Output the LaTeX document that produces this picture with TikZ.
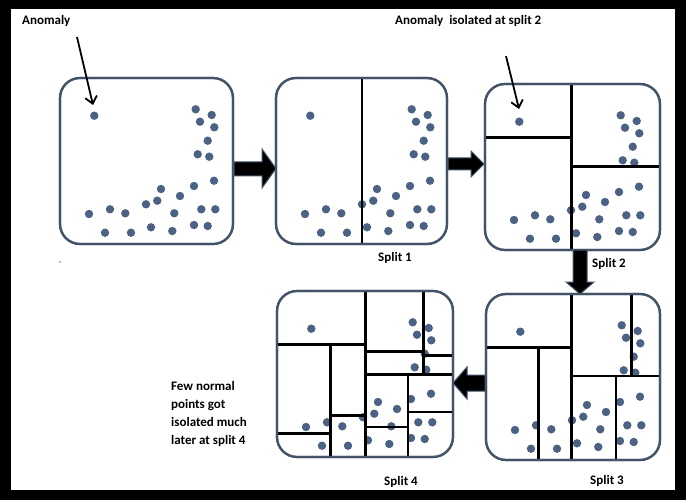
\documentclass[tikz,border=0pt]{standalone}
\usepackage{fontspec}
\setmainfont{Carlito}
\usetikzlibrary{arrows.meta}
\definecolor{frameblue}{HTML}{435468}
\definecolor{dotblue}{HTML}{4C6284}
\newcommand\mydots{%
  \foreach \px/\py in {34.3/37.7, 135.7/31.3, 151.7/37, 140/43.7, 154.3/49.3, 147.7/62.7,
    137.7/76.3, 149.3/78.7, 154/102.7, 134/108, 101/111, 120/118, 97.3/122.7, 86/126.3,
    50/131.3, 29/136, 65.3/135.3, 114.3/135.3, 141.3/131.3, 155.3/131.3, 45/154.7,
    71/154.7, 91/149.3, 112.3/153, 134/147, 147.7/148}
  {\fill[dotblue] (\px,\py) circle (4.2pt);}}
\begin{document}
\begin{tikzpicture}[x=1pt,y=-1pt,
  panel/.style={draw=frameblue, line width=2.2pt, rounded corners=20pt,
    minimum width=#1, minimum height=166pt, anchor=north west,
    inner sep=0pt, outer sep=0pt},
  cut/.style={draw=black, line width=2.6pt},
  txt/.style={font=\bfseries\fontsize{13}{18}\selectfont, inner sep=0pt},
  ann/.style={line width=1.8pt, -{Straight Barb[length=7pt,width=12pt]}},
  blk/.style={fill=black, draw=frameblue, line width=1pt, line join=miter}]
\useasboundingbox (0,0) rectangle (686,500);
\fill[black] (0,0) rectangle (686,500);
\fill[white] (11,9) rectangle (675,490);
\fill[gray] (60,262) circle (0.8pt);

% panels
\node[panel=173pt] (p1) at (60,78) {};
\node[panel=171pt] (p2) at (276,78) {};
\node[panel=175pt] (p3) at (485,84) {};
\node[panel=174pt] (p4) at (486,294) {};
\node[panel=176pt] (p5) at (277,291) {};

% panel 1
\begin{scope}[shift={(p1.north west)}]
  \mydots
  \coordinate (anom1) at (33,27);
\end{scope}
% panel 2
\begin{scope}[shift={(p2.north west)}]
  \mydots
  \draw[cut] (86,0) -- (86,166);
\end{scope}
% panel 3
\begin{scope}[shift={(p3.north west)}]
  \mydots
  \draw[cut] (86.7,0) -- (86.7,166);
  \draw[cut] (0,53.7) -- (86.7,53.7);
  \draw[cut] (86.7,82.7) -- (175,82.7);
  \coordinate (anom3) at (34,25);
\end{scope}
% panel 4 (split 3)
\begin{scope}[shift={(p4.north west)}]
  \mydots
  \draw[cut] (85.7,0) -- (85.7,166);
  \draw[cut] (0,53.7) -- (85.7,53.7);
  \draw[cut] (85.7,82) -- (174,82);
  \draw[cut] (145.7,0) -- (145.7,82);
  \draw[cut] (52.3,53.7) -- (52.3,166);
  \draw[cut] (130,82) -- (130,166);
\end{scope}
% panel 5 (split 4)
\begin{scope}[shift={(p5.north west)}]
  \mydots
  \draw[cut] (88.7,0) -- (88.7,166);
  \draw[cut] (0,53.6) -- (88.7,53.6);
  \draw[cut] (146.7,0) -- (146.7,83.6);
  \draw[cut] (88.7,60.3) -- (146.7,60.3);
  \draw[cut] (146.7,64.3) -- (176,64.3);
  \draw[cut] (88.7,83.6) -- (176,83.6);
  \draw[cut] (53.7,53.6) -- (53.7,166);
  \draw[cut] (0,142.6) -- (53.7,142.6);
  \draw[cut] (53.7,124.3) -- (88.7,124.3);
  \draw[cut] (131,83.6) -- (131,166);
  \draw[cut] (88.7,136) -- (131,136);
  \draw[cut] (131,121) -- (176,121);
\end{scope}

% redraw outlines on top
\foreach \p in {p1,p2,p3,p4,p5}
  \draw[frameblue, line width=2.2pt, rounded corners=20pt] (\p.north west) rectangle (\p.south east);

% block arrows
\draw[blk] (234,162) -- (262,162) -- (262,149) -- (276,168.5) -- (262,188) -- (262,176) -- (234,176) -- cycle;
\draw[blk] (448,158) -- (471,158) -- (471,151) -- (484,164) -- (471,177) -- (471,170) -- (448,170) -- cycle;
\draw[blk] (573,250) -- (587,250) -- (587,282) -- (594,282) -- (580,294) -- (566,282) -- (573,282) -- cycle;
\draw[blk] (485,375) -- (485,391) -- (467,391) -- (467,399) -- (453,383) -- (467,367) -- (467,375) -- cycle;

% texts
\node[txt, anchor=west] (t1) at (22,21) {Anomaly};
\node[txt, anchor=west] (t2) at (395,21) {Anomaly\ \ isolated at split 2};
\node[txt] (s1) at (395,258) {Split 1};
\node[txt] (s2) at (609,264) {Split 2};
\node[txt] (s3) at (607,481) {Split 3};
\node[txt] (s4) at (401,482) {Split 4};
\node[txt, anchor=north west, align=left] (few) at (171,381)
  {Few normal\\points got\\isolated much\\later at split 4};

% annotation arrows
\coordinate (a1s) at (77,37);
\coordinate (a2s) at (506,56);
\draw[ann] (a1s) -- (anom1);
\draw[ann] (a2s) -- (anom3);
\end{tikzpicture}
\end{document}
